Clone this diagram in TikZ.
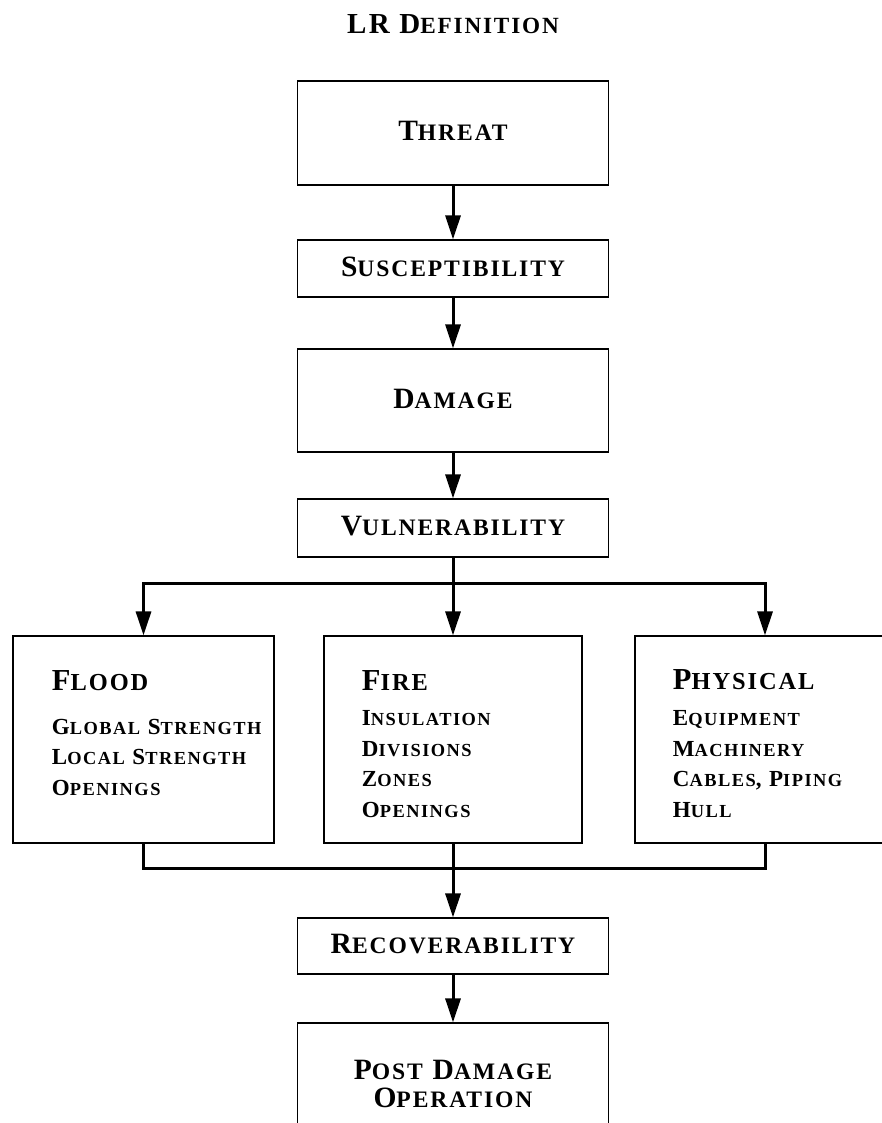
\documentclass[tikz,border=0pt]{standalone}
\usepackage{fontspec}
\setmainfont{Liberation Serif}[LetterSpace=8]
\usepackage{tikz}
\usetikzlibrary{arrows.meta,calc}

\makeatletter
\newdimen\smcdim
\newcommand\smc[2]{#1{\smcdim=\f@size pt\smcdim=0.8\smcdim
  \fontsize{\strip@pt\smcdim}{\strip@pt\smcdim}\selectfont #2}}
\makeatother

\begin{document}
\begin{tikzpicture}[x=1pt,y=-1pt,
    box/.style={draw,line width=1.1pt,minimum width=311pt},
    one/.style={text height=21pt,text depth=6pt,font=\fontsize{29.5}{27}\bfseries\selectfont},
    hd/.style={anchor=base west,font=\fontsize{30.5}{31}\bfseries\selectfont},
    items/.style={anchor=base west,align=left,font=\fontsize{23}{30.5}\bfseries\selectfont},
    arr/.style={line width=3pt,-{Triangle[length=24pt,width=15pt]}},
    ln/.style={line width=3pt}]
      \useasboundingbox (0,0) rectangle (882,1123);
      \clip (0,0) rectangle (882,1123);
      \node[font=\fontsize{29}{29}\bfseries\selectfont] (title) at (453,24) {LR \smc{D}{EFINITION}};
      \node[box,one,minimum height=104pt] (threat) at (453,133) {\smc{T}{HREAT}};
      \node[box,one,minimum height=57pt] (susc) at (453,268.5) {\smc{S}{USCEPTIBILITY}};
      \node[box,one,minimum height=103pt] (dam) at (453,400.5) {\smc{D}{AMAGE}};
      \node[box,one,minimum height=58pt] (vul) at (453,528) {\smc{V}{ULNERABILITY}};
      \node[box,minimum width=261pt,minimum height=207pt] (flood) at (143.5,739.5) {};
      \node[box,minimum width=258pt,minimum height=207pt] (fire) at (453,739.5) {};
      \node[box,minimum width=260pt,minimum height=207pt] (phys) at (765,739.5) {};
      \node[box,one,minimum height=56pt] (rec) at (453,946) {\smc{R}{ECOVERABILITY}};
      \node[box,minimum height=122pt,align=center,font=\fontsize{29.5}{27.5}\bfseries\selectfont] (post) at (453,1084)
        {\smc{P}{OST} \smc{D}{AMAGE}\\\smc{O}{PERATION}};
      % text of the three branches
      \node[hd] (floodhd) at ($(flood.north west)+(36,55)$) {\smc{F}{LOOD}};
      \node[items] (flooditm) at ($(flood.north west)+(36,160)$)
        {\smc{G}{LOBAL} \smc{S}{TRENGTH}\\\smc{L}{OCAL} \smc{S}{TRENGTH}\\\smc{O}{PENINGS}};
      \node[hd] (firehd) at ($(fire.north west)+(35,55)$) {\smc{F}{IRE}};
      \node[items] (fireitm) at ($(fire.north west)+(35,182)$)
        {\smc{I}{NSULATION}\\\smc{D}{IVISIONS}\\\smc{Z}{ONES}\\\smc{O}{PENINGS}};
      \node[hd] (physhd) at ($(phys.north west)+(35,54)$) {\smc{P}{HYSICAL}};
      \node[items] (physitm) at ($(phys.north west)+(35,182)$)
        {\smc{E}{QUIPMENT}\\\smc{M}{ACHINERY}\\\smc{C}{ABLES}, \smc{P}{IPING}\\\smc{H}{ULL}};
      % connectors
      \coordinate (split) at (453,583);
      \coordinate (join) at (453,868);
      \draw[arr] (threat) -- (susc);
      \draw[arr] (susc) -- (dam);
      \draw[arr] (dam) -- (vul);
      \draw[arr] (vul) -- (fire);
      \draw[arr] (split) -| (flood);
      \draw[arr] (split) -| (phys);
      \draw[ln] (flood) |- (join);
      \draw[ln] (phys) |- (join);
      \draw[arr] (fire) -- (rec);
      \draw[arr] (rec) -- (post);
    \end{tikzpicture}
\end{document}
